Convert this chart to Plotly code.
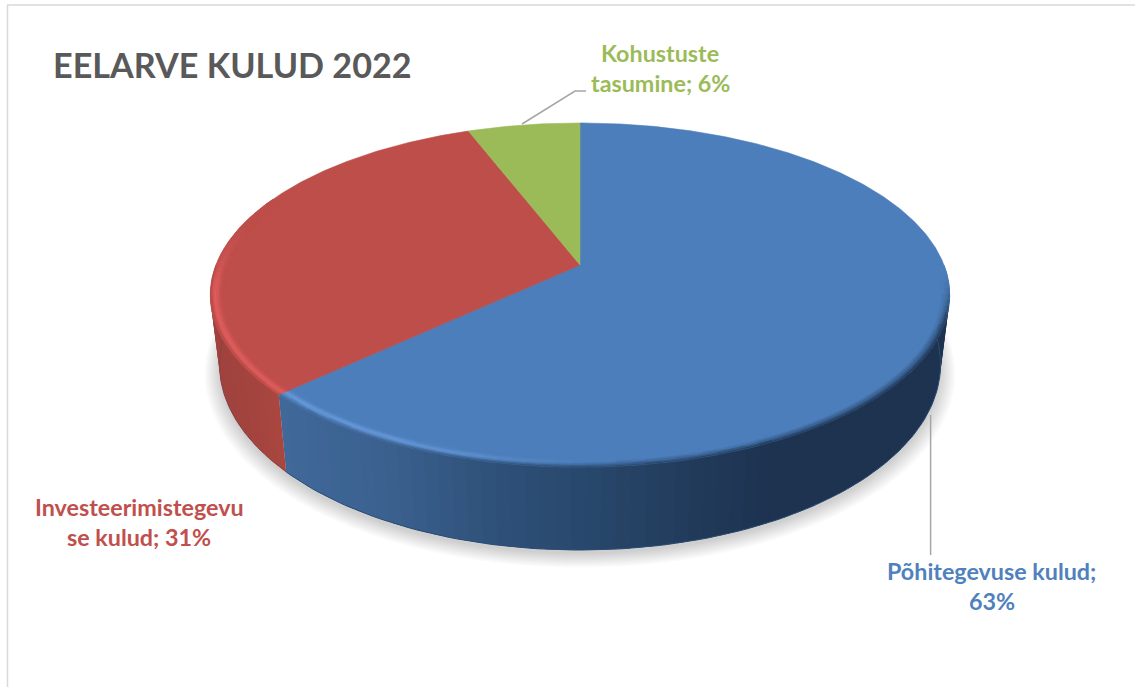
import math
import numpy as np
import plotly.graph_objects as go

# ---- data ----
categories = ["Põhitegevuse kulud", "Investeerimistegevuse kulud", "Kohustuste tasumine"]
values = [63.0, 31.2, 5.8]
label_lines = [["Põhitegevuse kulud;", "63%"], ["Investeerimistegevu", "se kulud; 31%"], ["Kohustuste", "tasumine; 6%"]]
title_text = "EELARVE KULUD 2022"

# ---- style ----
W, H = 1135, 687
top_colors = ["#4c7ebb", "#be4e4a", "#9bbb59"]
text_colors = ["#4f81bd", "#c0504d", "#9bbb59"]
glow_colors = ["#70a4e8", "#de5c5c", "#9bbb59"]
FONT = "Lato, 'Open Sans', sans-serif"

# perspective view of the pie: top disc and bottom disc
CX, K = 580.0, -0.1744
TOP = dict(a=364.0, b=166.8, y0=265.0)
BOT = dict(a=355.0, b=180.0, y0=332.0)


def proj(deg, r, d):
    t = np.radians(deg)
    X, Y = r * np.sin(t), -r * np.cos(t)
    w = 1 + K * Y
    return CX + d["a"] * X / w, d["y0"] + d["b"] * Y / w


def hexrgb(c):
    return np.array([int(c[i:i + 2], 16) for i in (1, 3, 5)], float)


def mix(c1, c2, t):
    t = max(0.0, min(1.0, t))
    v = hexrgb(c1) * (1 - t) + hexrgb(c2) * t
    return "#%02x%02x%02x" % tuple(int(round(q)) for q in v)


def smooth(a, b, x):
    t = max(0.0, min(1.0, (x - a) / (b - a)))
    return t * t * (3 - 2 * t)


def wall_color(i, sx):
    if i == 1:
        return mix("#a8463f", "#a0423e", smooth(280, 215, sx))
    stops = [(278, "#40699b"), (400, "#395f8c"), (500, "#2e5078"), (600, "#27466a"), (700, "#213a5a"), (770, "#1d3350"), (960, "#1d3350")]
    for (x0, c0), (x1, c1) in zip(stops, stops[1:]):
        if sx <= x1:
            return mix(c0, c1, (sx - x0) / (x1 - x0))
    return stops[-1][1]


# wedge angles, clockwise from the top, from the values
total = sum(values)
edges = [0.0]
for v in values:
    edges.append(edges[-1] + 360.0 * v / total)

fig = go.Figure()


def poly(xs, ys, fill, line=None, lw=0.6):
    fig.add_trace(go.Scatter(x=xs, y=ys, mode="lines", fill="toself", fillcolor=fill,
                             line=dict(color=line or fill, width=lw), hoverinfo="skip", showlegend=False))


# soft shadow below the base
th = np.linspace(0, 360, 181)
for s in range(12):
    f = s / 11
    r = 1.04 - 0.04 * f
    sx, sy = proj(th, r, dict(BOT, y0=BOT["y0"] + 7 - 3 * f))
    poly(list(sx), list(sy), "rgba(0,0,0,0.014)", "rgba(0,0,0,0)", 0)

# side wall, each band drawn in turn and overlapping the next one
for i in range(len(values)):
    lo, hi = max(edges[i], 90.0), min(edges[i + 1], 270.0)
    if hi <= lo:
        continue
    grid = np.linspace(lo, hi, int((hi - lo) / 2.0) + 2)
    for a, b in zip(grid, grid[1:]):
        over = min(b + 1.5, hi)
        band = np.linspace(a, over, 5)
        tx, ty = proj(band, 1, TOP)
        bx, by = proj(band[::-1], 1, BOT)
        poly(list(tx) + list(bx) + [tx[0]], list(ty) + list(by) + [ty[0]],
             wall_color(i, proj((a + b) / 2, 1, TOP)[0]), lw=0)

# darker line at the foot of the wall
for i in range(2):
    g = np.linspace(max(edges[i], 90.0), min(edges[i + 1], 270.0), 120)
    sx, sy = proj(g, 1, BOT)
    fig.add_trace(go.Scatter(x=sx, y=sy, mode="lines", line=dict(color=mix(top_colors[i], "#10233c", 0.55 if i == 0 else 0.3), width=1),
                             hoverinfo="skip", showlegend=False))

# top face
for i in range(len(values)):
    g = np.linspace(edges[i], edges[i + 1], max(3, int(edges[i + 1] - edges[i]) * 2))
    sx, sy = proj(g, 1, TOP)
    poly([CX] + list(sx) + [CX], [TOP["y0"]] + list(sy) + [TOP["y0"]], top_colors[i])

# bevel round the near rim of the top face, batched by colour
batches = {}


def quad(color, pts):
    b = batches.setdefault(color, ([], []))
    for px, py in pts + [pts[0]]:
        b[0].append(float(px))
        b[1].append(float(py))
    b[0].append(None)
    b[1].append(None)


RINGS = 7
R_IN = 0.962


def glow_strength(i, deg):
    if i == 0:
        return smooth(172, 205, deg)
    if i == 1:
        return 1 - smooth(258, 286, deg)
    return 0.0


def dark_strength(i, deg):
    return smooth(92, 112, deg) if i == 0 else 0.0


for i in range(2):
    lo = max(edges[i], 90.0)
    hi = min(edges[i + 1], 295.0)
    grid = np.linspace(lo, hi, int((hi - lo) / 2.0) + 2)
    for a, b in zip(grid, grid[1:]):
        m = (a + b) / 2
        wx = proj(m, 1, TOP)[0]
        for k in range(RINGS):
            r0 = 1 - (1 - R_IN) * k / RINGS
            r1 = 1 - (1 - R_IN) * (k + 1) / RINGS
            t = (k + 0.5) / RINGS
            gl = glow_strength(i, m) * math.exp(-((t - 0.38) / 0.27) ** 2)
            c = mix(top_colors[i], glow_colors[i], gl)
            dk = dark_strength(i, m) * max(0.0, 1 - t / 0.62) ** 1.3
            dk = max(dk, 0.45 * max(0.0, 1 - t / 0.2) if 100 < m <= 270 else 0)
            c = mix(c, wall_color(i, wx), dk)
            quad(c, [proj(a, r0, TOP), proj(b, r0, TOP), proj(b, r1, TOP), proj(a, r1, TOP)])
for color, (xs, ys) in batches.items():
    poly(xs, ys, color)

# text
LABEL_SIZE = 23.3
title_ann = dict(x=232, y=64, text=f"<b>{title_text}</b>", font=dict(family=FONT, size=34.2, color="#595959"))
anns = [title_ann]
label_pos = [(991.5, [571, 601]), (139, [507, 537]), (660, [53, 83])]
for i, (lx, lys) in enumerate(label_pos):
    for line, ly in zip(label_lines[i], lys):
        anns.append(dict(x=lx, y=ly, text=f"<b>{line}</b>", font=dict(family=FONT, size=LABEL_SIZE, color=text_colors[i])))
for a in anns:
    a.update(xref="x", yref="y", showarrow=False, xanchor="center", yanchor="middle")

grey = dict(color="#a6a6a6", width=1.5)
shapes = [
    dict(type="line", x0=7.5, x1=7.5, y0=5, y1=687, line=dict(color="#d9d9d9", width=1.5), layer="below"),
    dict(type="line", x0=7, x1=1135, y0=5, y1=5, line=dict(color="#d9d9d9", width=1.5), layer="below"),
    dict(type="path", path="M 522 124 L 575 91 L 586 91", line=grey),
    dict(type="line", x0=930.6, x1=930.6, y0=415, y1=555, line=grey),
]

fig.update_layout(
    width=W, height=H, margin=dict(l=0, r=0, t=0, b=0), autosize=False,
    paper_bgcolor="white", plot_bgcolor="white", showlegend=False,
    xaxis=dict(range=[0, W], visible=False, fixedrange=True),
    yaxis=dict(range=[H, 0], visible=False, fixedrange=True),
    annotations=anns, shapes=shapes,
)
fig.write_html("out.html", config={"displayModeBar": False},
               post_script="document.body.style.margin='0';document.documentElement.style.overflow='hidden';")
